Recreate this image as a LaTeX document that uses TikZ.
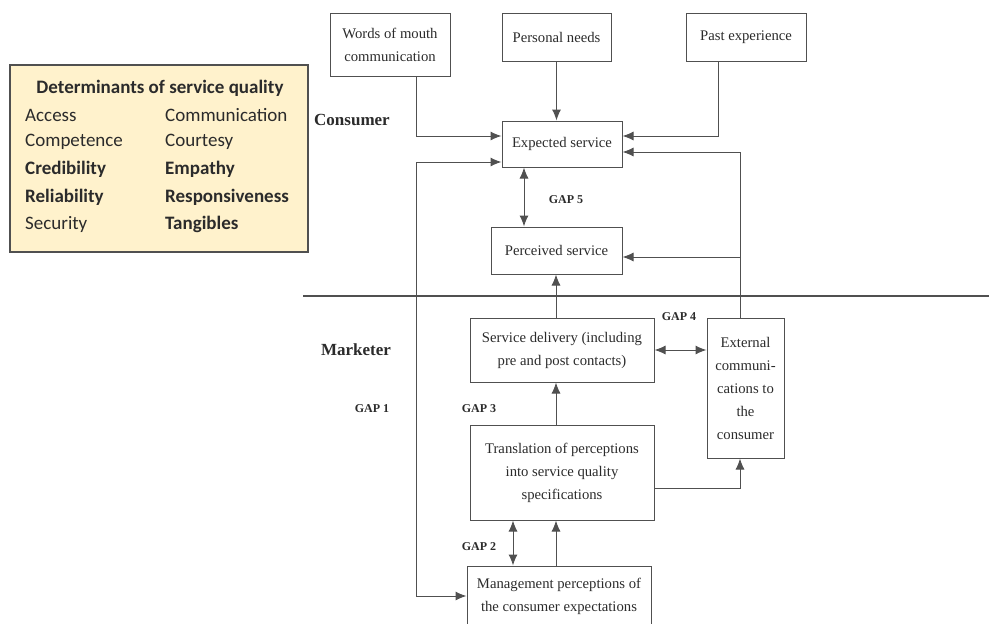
\documentclass[tikz,border=0pt]{standalone}
\usepackage{fontspec}
\setmainfont{Liberation Serif}
\newfontfamily\calib{Carlito}
\usetikzlibrary{arrows.meta,positioning}
\definecolor{linegray}{HTML}{505050}
\definecolor{txtgray}{HTML}{2B2B2B}
\definecolor{notefill}{HTML}{FFF2CC}
\tikzset{
  boxnode/.style={draw=linegray, line width=1pt, align=center, inner sep=2pt,
    text=txtgray, font=\fontsize{14.7}{23}\selectfont},
  gaplabel/.style={font=\bfseries\fontsize{12}{14}\selectfont, text=txtgray},
  sidelabel/.style={font=\bfseries\fontsize{17}{20}\selectfont, text=txtgray},
  detitem/.style={anchor=west, inner sep=0pt, text=txtgray,
    font=\calib\fontsize{19}{22}\selectfont},
  detbold/.style={detitem, font=\calib\bfseries\fontsize{19}{22}\selectfont},
  flow/.style={-{Latex[length=11pt,width=9pt]}, draw=linegray, line width=1pt},
  gap/.style={{Latex[length=11pt,width=9pt]}-{Latex[length=11pt,width=9pt]},
    draw=linegray, line width=1pt}
}

\begin{document}
\begin{tikzpicture}[x=1pt, y=-1pt]
\useasboundingbox (0,0) rectangle (989,624);
\clip (0,0) rectangle (989,624);

% determinants box
\draw[fill=notefill, draw=linegray, line width=1.5pt] (10,65) rectangle (308,252);
\node[detbold, anchor=center] (dettitle) at (160,88) {Determinants of service quality};
\node[detitem] (access) at (25,115) {Access};
\node[detitem] (competence) at (25,142) {Competence};
\node[detbold] (credibility) at (25,169) {Credibility};
\node[detbold] (reliability) at (25,197) {Reliability};
\node[detitem] (security) at (25,224) {Security};
\node[detitem] (communication) at (165,115) {Communication};
\node[detitem] (courtesy) at (165,142) {Courtesy};
\node[detbold] (empathy) at (165,169) {Empathy};
\node[detbold] (responsiveness) at (165,197) {Responsiveness};
\node[detbold] (tangibles) at (165,224) {Tangibles};

% consumer side
\node[boxnode, minimum width=120pt, minimum height=63pt] (wom) at (390,44.5) {Words of mouth\\communication};
\node[boxnode, minimum width=109pt, minimum height=48pt] (pneeds) at (556.5,37) {Personal needs};
\node[boxnode, minimum width=120pt, minimum height=48pt] (pexp) at (746,37) {Past experience};
\node[boxnode, minimum width=120pt, minimum height=46pt] (expected) at (562,144) {Expected service};
\node[boxnode, minimum width=131pt, minimum height=47pt] (perceived) at (556.5,250.5) {Perceived service};

% marketer side
\node[boxnode, minimum width=184pt, minimum height=64pt] (delivery) at (562,350) {Service delivery (including\\pre and post contacts)};
\node[boxnode, minimum width=77pt, minimum height=140pt] (external) at (745.5,388) {External\\communi-\\cations to\\the\\consumer};
\node[boxnode, minimum width=184pt, minimum height=95pt] (translation) at (562,472.5) {Translation of perceptions\\into service quality\\specifications};
\node[boxnode, minimum width=184pt, minimum height=60pt] (management) at (559,596) {Management perceptions of\\the consumer expectations};

\node[sidelabel] (consumer) at (352,120) {Consumer};
\node[sidelabel] (marketer) at (356,350) {Marketer};
\node[gaplabel] (gap5) at (566,200) {GAP 5};
\node[gaplabel] (gap4) at (679,317) {GAP 4};
\node[gaplabel] (gap3) at (479,409) {GAP 3};
\node[gaplabel] (gap1) at (372,409) {GAP 1};
\node[gaplabel] (gap2) at (479,547) {GAP 2};

% separator
\draw[linegray, line width=1.3pt] (303,296) -- (989,296);

% connectors
\coordinate (g1) at (416,596);
\coordinate (extup) at (740,152);
\draw[flow] ([xshift=-34pt]wom.south east) |- ([yshift=8pt]expected.west);
\draw[flow] (pneeds.south) -- (pneeds.south |- expected.north);
\draw[flow] ([xshift=-28pt]pexp.south) |- ([yshift=8pt]expected.east);
\draw[flow] (external.north -| extup) -- (extup) -- (extup -| expected.east);
\draw[flow] (external.north -| extup) |- ([yshift=-6.5pt]perceived.east);
\draw[gap] ([xshift=-38pt]expected.south) -- ([xshift=-38pt]expected.south |- perceived.north);
\draw[flow] ([xshift=-6pt]delivery.north) -- ([xshift=-6pt]delivery.north |- perceived.south);
\draw[gap] (delivery.east) -- (delivery.east -| external.west);
\draw[flow] ([xshift=-6pt]translation.north) -- ([xshift=-6pt]translation.north |- delivery.south);
\draw[flow] ([yshift=-15.5pt]translation.east) -| (external.south -| extup);
\draw[gap] ([xshift=-49pt]translation.south) -- ([xshift=-49pt]translation.south |- management.north);
\draw[flow] ([xshift=-6pt]translation.south |- management.north) -- ([xshift=-6pt]translation.south);
\draw[gap] ([yshift=-18pt]expected.west) -| (g1) -- (management.west);
\end{tikzpicture}
\end{document}
